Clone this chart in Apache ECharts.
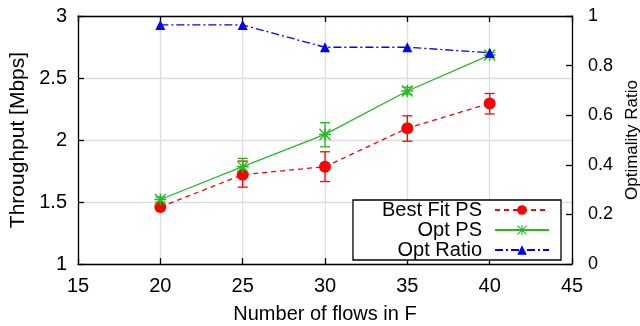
<!DOCTYPE html>
<html><head><meta charset="utf-8">
<script src="https://cdn.jsdelivr.net/npm/echarts@6/dist/echarts.min.js"></script>
<style>html,body{margin:0;padding:0;background:#fff}#c{width:640px;height:326px}</style>
</head><body><div id="c"></div>
<script>
const flows = [20, 25, 30, 35, 40];
const bestFit = [1.46, 1.72, 1.785, 2.095, 2.295];
const bestFitLow = [1.44, 1.62, 1.665, 1.99, 2.21];
const bestFitHigh = [1.48, 1.83, 1.905, 2.195, 2.375];
const optPS = [1.52, 1.785, 2.045, 2.395, 2.685];
const optPSLow = [1.50, 1.725, 1.945, 2.37, 2.665];
const optPSHigh = [1.54, 1.852, 2.14, 2.425, 2.705];
const optRatio = [0.964, 0.964, 0.874, 0.874, 0.852];
const seriesNames = ['Best Fit PS', 'Opt PS', 'Opt Ratio'];
const xTicks = [15, 20, 25, 30, 35, 40, 45];

const FONT = 'Liberation Sans';
const RED = '#ff0000', GREEN = '#22bb22', BLUE = '#0000ff';
const asterisk = 'path://M4.4 0H5.6V10H4.4Z M0 4.4H10V5.6H0Z M0 0.8L0.8 0L10 9.2L9.2 10Z M9.2 0L10 0.8L0.8 10L0 9.2Z';

function errData(lo, hi) { return flows.map((x, i) => [x, lo[i], hi[i]]); }
function errSeries(lo, hi, color) {
  return {
    type: 'custom', xAxisIndex: 0, yAxisIndex: 0, z: 3, silent: true,
    data: errData(lo, hi),
    renderItem: function (params, api) {
      const a = api.coord([api.value(0), api.value(1)]);
      const b = api.coord([api.value(0), api.value(2)]);
      const w = 5;
      const st = { stroke: color, lineWidth: 1.3 };
      return { type: 'group', children: [
        { type: 'line', shape: { x1: a[0], y1: a[1], x2: b[0], y2: b[1] }, style: st },
        { type: 'line', shape: { x1: a[0] - w, y1: a[1], x2: a[0] + w, y2: a[1] }, style: st },
        { type: 'line', shape: { x1: b[0] - w, y1: b[1], x2: b[0] + w, y2: b[1] }, style: st }
      ]};
    }
  };
}

const chart = echarts.init(document.getElementById('c'), null, { renderer: 'canvas' });
const axLine = { show: true, lineStyle: { color: '#000', width: 1.3 } };
const tick = { show: true, inside: true, length: 6, lineStyle: { color: '#000', width: 1.3 } };
const grid = { show: true, lineStyle: { color: '#dddddd', width: 1.3 } };
const lbl = { color: '#000', fontFamily: FONT, fontSize: 20 };

chart.setOption({
  animation: false,
  backgroundColor: '#fff',
  grid: { left: 78, right: 68, top: 16, bottom: 62, containLabel: false, outerBoundsMode: 'none' },
  legend: {
    data: seriesNames, orient: 'vertical', align: 'right',
    right: 79, top: 200,
    itemWidth: 54, itemHeight: 12, itemGap: 0,
    padding: [0, 11, 0, 29],
    borderColor: '#000', borderWidth: 1.3, backgroundColor: '#fff',
    textStyle: { color: '#000', fontFamily: FONT, fontSize: 20, lineHeight: 18.5, padding: [0, 8, 0, 0] },
    selectedMode: false
  },
  xAxis: [
    { type: 'value', min: xTicks[0], max: xTicks[xTicks.length - 1], interval: 5, position: 'bottom',
      name: 'Number of flows in F', nameLocation: 'middle', nameGap: 40,
      nameTextStyle: { color: '#000', fontFamily: FONT, fontSize: 20 },
      axisLine: axLine, axisTick: tick, splitLine: grid,
      axisLabel: Object.assign({ margin: 12 }, lbl) },
    { type: 'value', min: xTicks[0], max: xTicks[xTicks.length - 1], interval: 5, position: 'top',
      axisLine: axLine, axisTick: tick, splitLine: { show: false }, axisLabel: { show: false } }
  ],
  yAxis: [
    { type: 'value', min: 1, max: 3, interval: 0.5, position: 'left',
      name: 'Throughput [Mbps]', nameLocation: 'middle', nameGap: 44, nameRotate: 90,
      nameTextStyle: { color: '#000', fontFamily: FONT, fontSize: 21 },
      axisLine: axLine, axisTick: tick, splitLine: grid,
      axisLabel: Object.assign({ margin: 11 }, lbl) },
    { type: 'value', min: 0, max: 1, interval: 0.2, position: 'right',
      name: 'Optimality Ratio', nameLocation: 'middle', nameGap: 52, nameRotate: 90,
      nameTextStyle: { color: '#000', fontFamily: FONT, fontSize: 17 },
      axisLine: axLine, axisTick: tick, splitLine: { show: false },
      axisLabel: Object.assign({ margin: 16 }, lbl, { fontSize: 18 }) }
  ],
  series: [
    errSeries(bestFitLow, bestFitHigh, RED),
    errSeries(optPSLow, optPSHigh, GREEN),
    { name: seriesNames[0], type: 'line', xAxisIndex: 0, yAxisIndex: 0, z: 4,
      data: flows.map((x, i) => [x, bestFit[i]]),
      symbol: 'circle', symbolSize: 12,
      lineStyle: { color: RED, width: 1.3, type: [5, 4] }, itemStyle: { color: RED } },
    { name: seriesNames[1], type: 'line', xAxisIndex: 0, yAxisIndex: 0, z: 4,
      data: flows.map((x, i) => [x, optPS[i]]),
      symbol: asterisk, symbolSize: 12,
      lineStyle: { color: GREEN, width: 1.3, type: 'solid' }, itemStyle: { color: GREEN } },
    { name: seriesNames[2], type: 'line', xAxisIndex: 0, yAxisIndex: 1, z: 4,
      data: flows.map((x, i) => [x, optRatio[i]]),
      symbol: 'triangle', symbolSize: 10,
      lineStyle: { color: BLUE, width: 1.3, type: [8, 3, 2, 3] }, itemStyle: { color: BLUE } }
  ]
});
</script></body></html>
